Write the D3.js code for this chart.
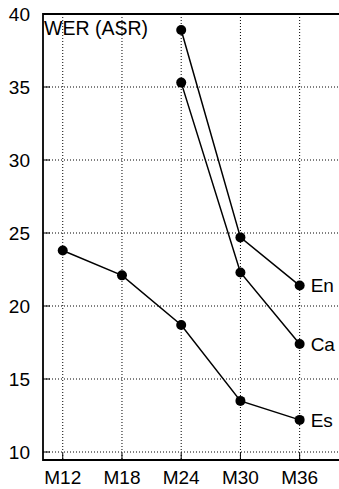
<html>
<head>
<meta charset="utf-8">
<script src="https://cdn.jsdelivr.net/npm/d3@7"></script>
<style>
body { margin: 0; background: #fff; }
text { font-family: "Liberation Sans", Arial, sans-serif; }
</style>
</head>
<body>
<svg id="chart" width="339" height="489"></svg>
<script>
var months = ["M12", "M18", "M24", "M30", "M36"];
var yTicks = [10, 15, 20, 25, 30, 35, 40];
var enVals = [null, null, 38.9, 24.7, 21.4];
var caVals = [null, null, 35.3, 22.3, 17.4];
var esVals = [23.8, 22.1, 18.7, 13.5, 12.2];
var seriesNames = ["En", "Ca", "Es"];

var series = [enVals, caVals, esVals].map(function(v, k) {
  return { name: seriesNames[k], pts: v.map(function(d, i) { return { i: i, v: d }; }).filter(function(p) { return p.v != null; }) };
});

var svg = d3.select("#chart");
var pLeft = 43, pTop = 14, pBottom = 460;
var fs = 19;

var x = d3.scaleLinear().domain([-1 / 3, 4.85]).range([pLeft, 350]);
var y = d3.scaleLinear().domain([10, 40]).range([452, pTop]);

// grid
svg.append("g").selectAll("line").data(months).enter().append("line")
  .attr("x1", function(d, i) { return x(i); }).attr("x2", function(d, i) { return x(i); })
  .attr("y1", pTop).attr("y2", pBottom)
  .attr("stroke", "#000").attr("stroke-width", 1).attr("stroke-dasharray", "1,2");
svg.append("g").selectAll("line").data(yTicks.slice(0, -1)).enter().append("line")
  .attr("x1", pLeft).attr("x2", 339)
  .attr("y1", function(d) { return y(d); }).attr("y2", function(d) { return y(d); })
  .attr("stroke", "#000").attr("stroke-width", 1).attr("stroke-dasharray", "1,2");

// ticks inward
svg.append("g").selectAll("line").data(yTicks).enter().append("line")
  .attr("x1", pLeft).attr("x2", pLeft + 7)
  .attr("y1", function(d) { return y(d); }).attr("y2", function(d) { return y(d); })
  .attr("stroke", "#000").attr("stroke-width", 1);
svg.append("g").selectAll("line").data(months).enter().append("line")
  .attr("x1", function(d, i) { return x(i); }).attr("x2", function(d, i) { return x(i); })
  .attr("y1", pBottom).attr("y2", pBottom - 7)
  .attr("stroke", "#000").attr("stroke-width", 1);

// frame
svg.append("path")
  .attr("d", "M339," + pTop + "H" + pLeft + "V" + pBottom + "H339")
  .attr("fill", "none").attr("stroke", "#000").attr("stroke-width", 1.8);

// tick labels
svg.append("g").selectAll("text").data(yTicks).enter().append("text")
  .attr("x", 30).attr("y", function(d) { return y(d); }).attr("dy", "0.36em")
  .attr("text-anchor", "end").attr("font-size", fs).text(function(d) { return d; });
svg.append("g").selectAll("text").data(months).enter().append("text")
  .attr("x", function(d, i) { return x(i); }).attr("y", 484)
  .attr("text-anchor", "middle").attr("font-size", fs).text(function(d) { return d; });

svg.append("text").attr("x", 44).attr("y", 35).attr("font-size", fs + 0.5).text("WER (ASR)");

// lines
var line = d3.line().x(function(p) { return x(p.i); }).y(function(p) { return y(p.v); });
var g = svg.selectAll(".s").data(series).enter().append("g").attr("class", "s");
g.append("path").attr("d", function(s) { return line(s.pts); })
  .attr("fill", "none").attr("stroke", "#000").attr("stroke-width", 1.5);
g.selectAll("circle").data(function(s) { return s.pts; }).enter().append("circle")
  .attr("cx", function(p) { return x(p.i); }).attr("cy", function(p) { return y(p.v); })
  .attr("r", 5).attr("fill", "#000");
g.append("text")
  .attr("x", function(s) { return x(s.pts[s.pts.length - 1].i) + 11; })
  .attr("y", function(s) { return y(s.pts[s.pts.length - 1].v); })
  .attr("dy", "0.36em").attr("font-size", fs).text(function(s) { return s.name; });
</script>
</body>
</html>
